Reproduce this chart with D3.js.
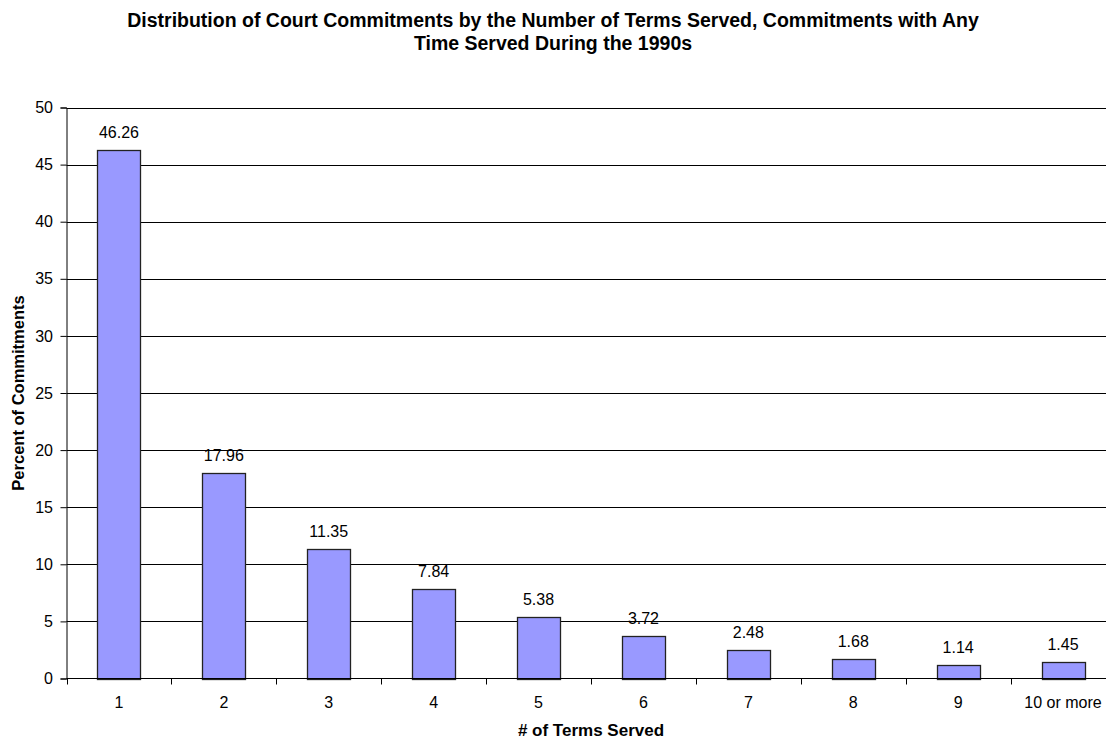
<!DOCTYPE html>
<html>
<head>
<meta charset="utf-8">
<script src="https://cdn.jsdelivr.net/npm/d3@7"></script>
<style>
  html, body { margin: 0; padding: 0; background: #fff; }
  svg { display: block; font-family: "Liberation Sans", Arial, sans-serif; }
</style>
</head>
<body>
<svg id="chart" width="1106" height="742"></svg>
<script>
// Number of terms served (categories) and share of commitments (%)
const categories = ["1", "2", "3", "4", "5", "6", "7", "8", "9", "10 or more"];
const percents = [46.26, 17.96, 11.35, 7.84, 5.38, 3.72, 2.48, 1.68, 1.14, 1.45];
const yTicks = [0, 5, 10, 15, 20, 25, 30, 35, 40, 45, 50];

const titleLines = [
  "Distribution of Court Commitments by the Number of Terms Served, Commitments with Any",
  "Time Served During the 1990s"
];

const FONT = "Liberation Sans, Arial, sans-serif";
const svg = d3.select("#chart");
const plot = { left: 66.5, right: 1115.5, top: 107.5, bottom: 678.5 };

const x = d3.scaleBand()
  .domain(categories)
  .range([plot.left, plot.right])
  .paddingInner(0.59)
  .paddingOuter(0.295);

const y = d3.scaleLinear()
  .domain([0, 50])
  .range([plot.bottom, plot.top]);

// Horizontal gridlines
svg.append("g")
  .selectAll("line")
  .data(yTicks.filter(d => d > 0))
  .join("line")
  .attr("x1", plot.left)
  .attr("x2", plot.right)
  .attr("y1", d => Math.round(y(d)) + 0.5)
  .attr("y2", d => Math.round(y(d)) + 0.5)
  .attr("stroke", "#000")
  .attr("stroke-width", 1);

// Bars
svg.append("g")
  .selectAll("rect")
  .data(percents)
  .join("rect")
  .attr("x", (d, i) => Math.round(x(categories[i])) + 0.5)
  .attr("y", d => Math.round(y(d)) + 0.5)
  .attr("width", Math.round(x.bandwidth()))
  .attr("height", d => Math.round(y(0)) - Math.round(y(d)))
  .attr("fill", "#9999FF")
  .attr("stroke", "#222")
  .attr("stroke-width", 1.3);

// Value labels
svg.append("g")
  .selectAll("text")
  .data(percents)
  .join("text")
  .attr("x", (d, i) => x(categories[i]) + x.bandwidth() / 2)
  .attr("y", d => y(d) - 12)
  .attr("text-anchor", "middle")
  .attr("font-size", 16)
  .attr("font-family", FONT)
  .attr("fill", "#000")
  .text(d => d.toFixed(2));

// Y axis
const yAxis = d3.axisLeft(y)
  .tickValues(yTicks)
  .tickSize(6)
  .tickPadding(7.5)
  .tickFormat(d3.format("d"));
const gy = svg.append("g")
  .attr("transform", `translate(${plot.left},0)`)
  .call(yAxis);
gy.select(".domain").attr("stroke", "#000");
gy.selectAll(".tick line").attr("stroke", "#000");
gy.selectAll(".tick text")
  .attr("font-size", 16)
  .attr("font-family", FONT)
  .attr("fill", "#000");

// X axis with tick marks between categories
const xAxis = d3.axisBottom(x).tickSize(0);
const gx = svg.append("g")
  .attr("transform", `translate(0,${plot.bottom})`)
  .call(xAxis);
gx.select(".domain").attr("stroke", "#000").attr("d", `M${plot.left},0H${plot.right}`);
gx.selectAll(".tick text")
  .attr("y", 29.5)
  .attr("dy", null)
  .attr("font-size", 16)
  .attr("font-family", FONT)
  .attr("fill", "#000");

const step = x.step();
const boundaries = d3.range(categories.length + 1).map(i => plot.left + i * step);
gx.append("g")
  .selectAll("line")
  .data(boundaries)
  .join("line")
  .attr("x1", d => Math.round(d) + 0.5)
  .attr("x2", d => Math.round(d) + 0.5)
  .attr("y1", 0)
  .attr("y2", 6)
  .attr("stroke", "#000");

// Title
svg.append("text")
  .attr("text-anchor", "middle")
  .attr("font-size", 19.5)
  .attr("font-weight", "bold")
  .attr("font-family", FONT)
  .selectAll("tspan")
  .data(titleLines)
  .join("tspan")
  .attr("x", 553)
  .attr("y", (d, i) => 27 + i * 23)
  .text(d => d);

// Axis titles
svg.append("text")
  .attr("x", (plot.left + plot.right) / 2)
  .attr("y", 735.5)
  .attr("text-anchor", "middle")
  .attr("font-size", 17)
  .attr("font-weight", "bold")
  .attr("font-family", FONT)
  .text("# of Terms Served");

svg.append("text")
  .attr("transform", `translate(24,${(plot.top + plot.bottom) / 2}) rotate(-90)`)
  .attr("text-anchor", "middle")
  .attr("font-size", 16.5)
  .attr("font-weight", "bold")
  .attr("font-family", FONT)
  .text("Percent of Commitments");
</script>
</body>
</html>
